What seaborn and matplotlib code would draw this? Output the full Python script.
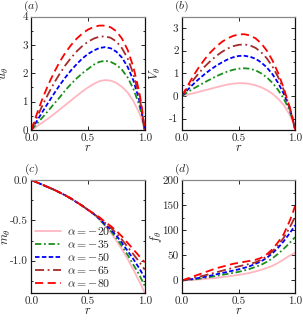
import matplotlib
matplotlib.use("Agg")
import matplotlib.pyplot as plt
import matplotlib.ticker as ticker
import numpy as np
import pandas as pd
import seaborn as sns

# ── Data ─────────────────────────────────────────────────────────────────────
r = [0.0, 0.05, 0.1, 0.15, 0.2, 0.25, 0.3, 0.35, 0.4, 0.45, 0.5,
     0.55, 0.6, 0.65, 0.7, 0.75, 0.8, 0.85, 0.9, 0.95, 0.975, 1.0]
alphas = [-20, -35, -50, -65, -80]

u_theta = {
    -20: [0, 0.13, 0.27, 0.41, 0.56, 0.72, 0.88, 1.04, 1.20, 1.36, 1.50,
          1.62, 1.72, 1.76, 1.74, 1.66, 1.52, 1.32, 1.02, 0.62, 0.36, 0],
    -35: [0, 0.22, 0.45, 0.68, 0.92, 1.15, 1.40, 1.62, 1.82, 2.00, 2.15,
          2.30, 2.40, 2.44, 2.40, 2.30, 2.12, 1.85, 1.45, 0.90, 0.52, 0],
    -50: [0, 0.32, 0.65, 0.97, 1.28, 1.58, 1.85, 2.10, 2.32, 2.52, 2.68,
          2.80, 2.89, 2.92, 2.88, 2.76, 2.55, 2.22, 1.75, 1.08, 0.62, 0],
    -65: [0, 0.45, 0.88, 1.28, 1.65, 1.98, 2.28, 2.54, 2.77, 2.96, 3.11,
          3.22, 3.29, 3.30, 3.25, 3.12, 2.88, 2.52, 1.98, 1.22, 0.70, 0],
    -80: [0, 0.58, 1.12, 1.60, 2.02, 2.40, 2.72, 2.99, 3.22, 3.40, 3.54,
          3.63, 3.68, 3.68, 3.62, 3.48, 3.22, 2.82, 2.22, 1.38, 0.80, 0],
}

V_theta = {
    -20: [0, 0.06, 0.12, 0.18, 0.25, 0.31, 0.38, 0.44, 0.50, 0.54, 0.56,
          0.56, 0.53, 0.47, 0.38, 0.26, 0.10, -0.12, -0.40, -0.80, -1.08, -1.42],
    -35: [0, 0.17, 0.32, 0.46, 0.60, 0.73, 0.86, 0.97, 1.07, 1.15, 1.20,
          1.22, 1.20, 1.13, 1.00, 0.82, 0.58, 0.27, -0.12, -0.62, -0.98, -1.42],
    -50: [0, 0.27, 0.52, 0.75, 0.96, 1.15, 1.32, 1.47, 1.60, 1.70, 1.76,
          1.77, 1.73, 1.64, 1.48, 1.26, 0.96, 0.58, 0.10, -0.50, -0.92, -1.45],
    -65: [0, 0.36, 0.70, 1.01, 1.29, 1.53, 1.75, 1.93, 2.08, 2.19, 2.25,
          2.27, 2.23, 2.12, 1.93, 1.66, 1.30, 0.84, 0.27, -0.45, -0.90, -1.45],
    -80: [0, 0.45, 0.88, 1.27, 1.61, 1.91, 2.16, 2.37, 2.53, 2.64, 2.71,
          2.72, 2.67, 2.54, 2.32, 2.00, 1.57, 1.02, 0.35, -0.45, -0.92, -1.48],
}

m_theta = {
    -20: [0, -0.03, -0.06, -0.09, -0.12, -0.155, -0.19, -0.23, -0.275, -0.32, -0.37,
          -0.42, -0.49, -0.57, -0.65, -0.75, -0.86, -0.98, -1.11, -1.25, -1.32, -1.40],
    -35: [0, -0.03, -0.06, -0.09, -0.12, -0.155, -0.19, -0.23, -0.275, -0.32, -0.37,
          -0.42, -0.485, -0.56, -0.63, -0.72, -0.82, -0.93, -1.05, -1.17, -1.24, -1.31],
    -50: [0, -0.03, -0.06, -0.09, -0.12, -0.155, -0.19, -0.23, -0.275, -0.32, -0.37,
          -0.42, -0.48, -0.55, -0.61, -0.69, -0.78, -0.88, -0.98, -1.09, -1.15, -1.21],
    -65: [0, -0.03, -0.06, -0.09, -0.12, -0.155, -0.19, -0.23, -0.275, -0.32, -0.37,
          -0.42, -0.47, -0.53, -0.59, -0.66, -0.74, -0.83, -0.92, -1.01, -1.06, -1.11],
    -80: [0, -0.03, -0.06, -0.09, -0.12, -0.155, -0.19, -0.23, -0.275, -0.32, -0.37,
          -0.415, -0.46, -0.52, -0.57, -0.63, -0.70, -0.78, -0.86, -0.94, -0.98, -1.02],
}

f_theta = {
    -20: [0, 0.5, 1, 2, 3, 4, 5, 6.5, 8, 9.5, 11,
          13, 15, 18, 21, 25, 29, 35, 42, 49, 52, 55],
    -35: [0, 1, 2, 3.5, 5, 7, 9, 11, 13, 15, 17,
          20, 23, 27, 31, 37, 44, 53, 63, 74, 80, 86],
    -50: [0, 1.5, 3, 5, 7, 9.5, 12, 14.5, 17, 19.5, 22,
          25, 28.5, 33, 38, 45, 54, 65, 78, 93, 101, 110],
    -65: [0, 2.5, 5, 7.5, 10, 13, 16, 19, 22, 25, 28,
          30.5, 33, 36, 41, 48, 58, 70, 85, 104, 115, 127],
    -80: [0, 4, 8, 12, 16, 20, 24, 27, 30, 33, 35,
          37, 39, 41, 45, 52, 62, 76, 92, 117, 131, 148],
}

# ── Styling ──────────────────────────────────────────────────────────────────
sns.set_style("ticks")
plt.rcParams["font.family"] = ["cmr10", "DejaVu Serif"]
plt.rcParams["mathtext.fontset"] = "cm"
plt.rcParams["axes.unicode_minus"] = False
plt.rcParams["font.size"] = 8

labels = {a: rf"$\alpha = -{abs(a)}$" for a in alphas}
palette = {labels[-20]: "#FFB6C1", labels[-35]: "#1a8f1a", labels[-50]: "#0000FF",
           labels[-65]: "#A52A2A", labels[-80]: "#FF0000"}
dashes = {labels[-20]: "", labels[-35]: (3.5, 1.5, 1, 1.5), labels[-50]: (2.5, 1.3),
          labels[-65]: (5, 2, 1, 2), labels[-80]: (4.5, 2.5)}


def to_long(series):
    rows = []
    for a in alphas:
        for x, y in zip(r, series[a]):
            rows.append({"r": x, "val": y, "alpha": labels[a]})
    return pd.DataFrame(rows)


W, H = 303, 321
fig = plt.figure(figsize=(W / 100, H / 100), dpi=100)


def box(x0, x1, y0, y1):
    return [x0 / W, 1 - y1 / H, (x1 - x0) / W, (y1 - y0) / H]


panels = [
    (u_theta, r"$u_\theta$", "$(a)$", box(31.3, 144.7, 16.5, 130), (0, 4), 1, 0.5, "{:.0f}", -0.18),
    (V_theta, r"$V_\theta$", "$(b)$", box(182, 295, 16.5, 130), (-1.5, 3.5), 1, 0.5, "{:.0f}", -0.17),
    (m_theta, r"$m_\theta$", "$(c)$", box(31.3, 144.7, 180, 293), (-1.4, 0), 0.5, 0.25, "{:.1f}", -0.16),
    (f_theta, r"$f_\theta$", "$(d)$", box(182, 295, 180, 293), (-25, 200), 50, 25, "{:.0f}", -0.16),
]

for i, (series, ylab, tag, pos, ylim, major, minor, fmt, lab_x) in enumerate(panels):
    ax = fig.add_axes(pos)
    sns.lineplot(data=to_long(series), x="r", y="val", hue="alpha", style="alpha",
                 palette=palette, dashes=dashes, linewidth=1.3, ax=ax,
                 legend=(i == 2), sort=False)
    ax.set_xlim(0, 1)
    ax.set_ylim(*ylim)
    ax.xaxis.set_major_locator(ticker.FixedLocator([0, 0.5, 1.0]))
    ax.xaxis.set_major_formatter(ticker.FuncFormatter(lambda v, p: f"{v:.1f}"))
    ax.yaxis.set_major_locator(ticker.MultipleLocator(major))
    ax.yaxis.set_minor_locator(ticker.MultipleLocator(minor))
    ax.yaxis.set_major_formatter(ticker.FuncFormatter(
        lambda v, p, f=fmt: f.format(0 if abs(v) < 1e-9 else v)))
    ax.tick_params(which="both", direction="in", top=True, right=True,
                   labelsize=8, pad=2.5, width=0.7)
    ax.tick_params(which="major", length=3)
    ax.tick_params(which="minor", length=1.5)
    for side in ("left", "bottom", "right"):
        ax.spines[side].set_color("#111111")
        ax.spines[side].set_linewidth(0.9)
    ax.spines["top"].set_color("#888888")
    ax.spines["top"].set_linewidth(0.9)
    ax.set_xlabel(r"$r$", fontsize=9, labelpad=-1)
    ax.set_ylabel(ylab, fontsize=9)
    ax.yaxis.set_label_coords(lab_x, 0.5)
    ax.text(0, 1.09, tag, transform=ax.transAxes, ha="center", va="center", fontsize=8.5)
    if i == 2:
        ax.legend(loc="lower left", frameon=False, fontsize=8.5, handlelength=2.2,
                  handletextpad=0.5, labelspacing=0.1, borderaxespad=0.1,
                  borderpad=0.2, bbox_to_anchor=(0.0, 0.0))

fig.savefig("out.png", dpi=100)
